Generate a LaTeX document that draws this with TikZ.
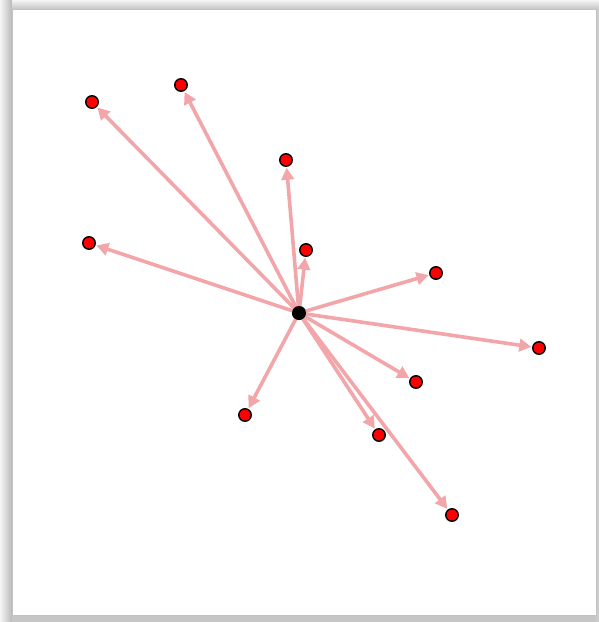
\documentclass[tikz,border=0pt]{standalone}
\usetikzlibrary{arrows.meta}
\definecolor{edgepink}{RGB}{243,166,170}
\definecolor{framegray}{RGB}{195,195,195}
\begin{document}
\begin{tikzpicture}[x=1pt,y=-1pt,
  leaf/.style={circle,draw=black,line width=1.4pt,fill=red,minimum size=12.5pt,inner sep=0pt},
  hub/.style={circle,fill=black,minimum size=14pt,inner sep=0pt},
  link/.style={draw=edgepink,line width=3.6pt,-{Triangle[length=12pt,width=12.5pt]},shorten >=0.8pt}]
\useasboundingbox (0,0) rectangle (599,622);
% frame shading
\fill[gray!25] (0,0) rectangle (599,622);
\shade[left color=gray!8,right color=gray!55] (0,0) rectangle (12,622);
\shade[top color=gray!8,bottom color=gray!45] (12,0) rectangle (599,9);
\fill[gray!45] (12,615) rectangle (599,622);
\fill[gray!40] (596,9) rectangle (599,622);
\fill[white,draw=framegray,line width=1pt] (12.5,9.5) rectangle (596,615);
\node[hub] (c) at (299,313) {};
\node[leaf] (n1) at (92,102) {};
\node[leaf] (n2) at (181,85) {};
\node[leaf] (n3) at (286,160) {};
\node[leaf] (n4) at (306,250) {};
\node[leaf] (n5) at (89,243) {};
\node[leaf] (n6) at (436,273) {};
\node[leaf] (n7) at (539,348) {};
\node[leaf] (n8) at (416,382) {};
\node[leaf] (n9) at (245,415) {};
\node[leaf] (n10) at (379,435) {};
\node[leaf] (n11) at (452,515) {};
\foreach \n in {n1,n2,n3,n4,n5,n6,n7,n8,n9,n10,n11}{
  \draw[link] (c.center) -- (\n);
}
\node[hub] at (299,313) {};
\end{tikzpicture}
\end{document}
